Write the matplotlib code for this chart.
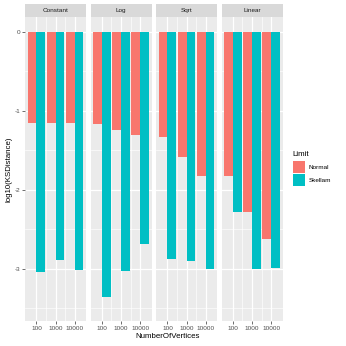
import matplotlib.pyplot as plt
from matplotlib.patches import Rectangle
import numpy as np

plt.rcParams['font.family'] = ['Liberation Sans', 'DejaVu Sans']

# data
panels = ['Constant', 'Log', 'Sqrt', 'Linear']
vertices = ['100', '1000', '10000']
limits = ['Normal', 'Skellam']
colors = {'Normal': '#F8766D', 'Skellam': '#00BFC4'}

normal = {
    'Constant': [-1.16, -1.16, -1.16],
    'Log': [-1.17, -1.25, -1.31],
    'Sqrt': [-1.33, -1.59, -1.83],
    'Linear': [-1.83, -2.29, -2.62],
}
skellam = {
    'Constant': [-3.04, -2.89, -3.02],
    'Log': [-3.36, -3.03, -2.69],
    'Sqrt': [-2.88, -2.91, -3.01],
    'Linear': [-2.28, -3.00, -2.99],
}

W = H = 346
fig = plt.figure(figsize=(W / 100, H / 100), dpi=100)

lefts = [25, 90.5, 156, 221.5]
pw = 61
top, bottom = 17.3, 320.7
strip_h = 13

x = np.arange(1, 4)
bw = 0.45
for i, p in enumerate(panels):
    ax = fig.add_axes([lefts[i] / W, (H - bottom) / H, pw / W, (bottom - top) / H])
    ax.set_facecolor('#EBEBEB')
    ax.bar(x - bw / 2, normal[p], width=bw, color=colors['Normal'], zorder=3)
    ax.bar(x + bw / 2, skellam[p], width=bw, color=colors['Skellam'], zorder=3)
    ax.set_xlim(0.4, 3.6)
    ax.set_ylim(-3.66, 0.18)
    ax.set_xticks(x)
    ax.set_xticks([1.5, 2.5], minor=True)
    ax.set_yticks([0, -1, -2, -3])
    ax.set_yticks([-0.5, -1.5, -2.5, -3.5], minor=True)
    ax.grid(which='major', color='white', linewidth=0.9, zorder=0)
    ax.grid(which='minor', color='white', linewidth=0.45, zorder=0)
    ax.set_axisbelow(True)
    for s in ax.spines.values():
        s.set_visible(False)
    ax.tick_params(which='minor', length=0)
    ax.tick_params(which='major', length=2, width=0.5, color='#333333',
                   labelsize=4.6, labelcolor='#4D4D4D', pad=1.5)
    ax.set_xticklabels(vertices)
    if i == 0:
        ax.set_yticklabels(['0', '-1', '-2', '-3'])
    else:
        ax.tick_params(axis='y', left=False, labelleft=False)
    # facet strip
    sax = fig.add_axes([lefts[i] / W, (H - top) / H, pw / W, strip_h / H])
    sax.set_facecolor('#D9D9D9')
    sax.set_xticks([])
    sax.set_yticks([])
    for s in sax.spines.values():
        s.set_visible(False)
    sax.text(0.5, 0.5, p, ha='center', va='center', fontsize=4.6, color='#1A1A1A',
             transform=sax.transAxes)

fig.text(168 / W, 1 - 336 / H, 'NumberOfVertices', ha='center', va='center', fontsize=5.7)
fig.text(9 / W, 1 - 169 / H, 'log10(KSDistance)', ha='center', va='center',
         fontsize=5.7, rotation=90)

# legend
fig.text(292.5 / W, 1 - 155 / H, 'Limit', ha='left', va='center', fontsize=5.7)
for j, lim in enumerate(limits):
    y0 = 161 + j * 12.8
    fig.patches.append(Rectangle((293 / W, 1 - (y0 + 12.3) / H), 12.3 / W, 12.3 / H,
                                 transform=fig.transFigure, facecolor=colors[lim],
                                 edgecolor='none'))
    fig.text(308.5 / W, 1 - (y0 + 6.2) / H, lim, ha='left', va='center', fontsize=4.6)

fig.savefig('out.png', dpi=100)
